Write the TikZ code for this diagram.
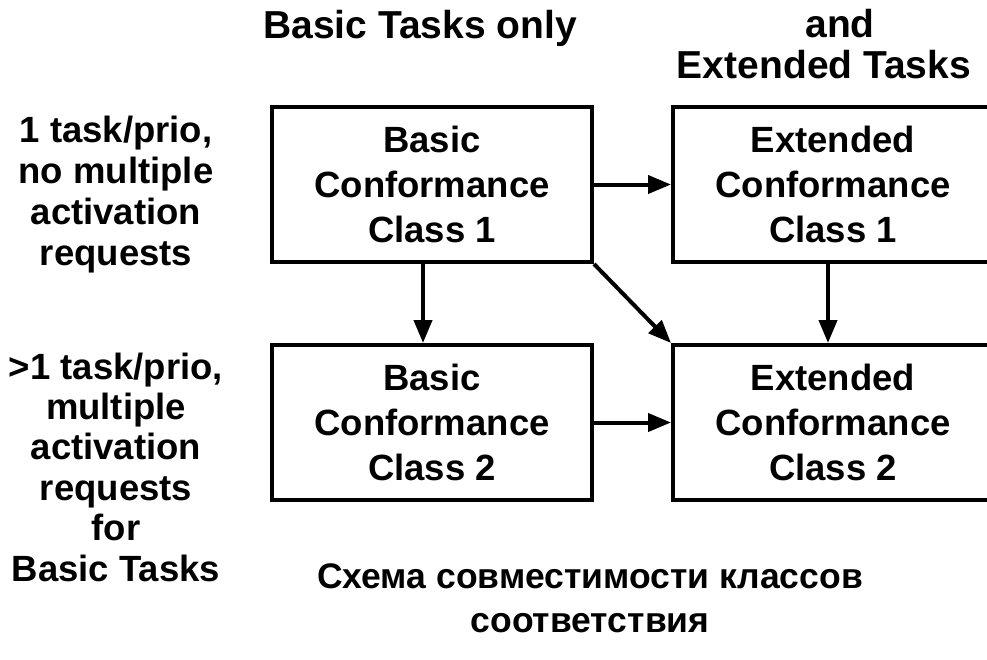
\documentclass[tikz,border=0pt]{standalone}
\usepackage{fontspec}
\setmainfont{Liberation Sans}
\usetikzlibrary{arrows.meta}
\begin{document}
\begin{tikzpicture}[x=1pt,y=-1pt,
  box/.style={draw, line width=4pt, minimum width=320pt, minimum height=155pt, align=center, inner sep=0pt, font=\fontsize{36.5}{45}\selectfont\bfseries},
  lbl/.style={align=center, inner sep=0pt, anchor=base},
  head/.style={lbl, font=\fontsize{39}{41}\selectfont\bfseries},
  conn/.style={line width=4pt, -{Triangle[length=23pt,width=18pt]}}]
\useasboundingbox (0,0) rectangle (987,659);
% boxes
\node[box] (b1) at (432,184.5) {Basic\\Conformance\\Class 1};
\node[box] (e1) at (833,184.5) {Extended\\Conformance\\Class 1};
\node[box] (b2) at (432,422.5) {Basic\\Conformance\\Class 2};
\node[box] (e2) at (833,422.5) {Extended\\Conformance\\Class 2};
% headings (anchor=base is the baseline of the last line)
\node[head] (h1) at (420,38) {Basic Tasks only};
\node[head] (h2a) at (840,37) {and};
\node[head] (h2b) at (824,78) {Extended Tasks};
% row labels
\node[lbl, font=\fontsize{36.5}{40.7}\selectfont\bfseries] (r1) at (116,265) {1 task/prio,\\no multiple\\activation\\requests};
\node[lbl, font=\fontsize{36.5}{40.4}\selectfont\bfseries] (r2) at (116,581) {>1 task/prio,\\multiple\\activation\\requests\\for\\Basic Tasks};
% caption
\node[lbl, font=\fontsize{35.5}{44}\selectfont\bfseries] (cap) at (590,632) {Схема совместимости классов\\соответствия};
% connectors
\draw[conn] (b1.east) -- (e1.west);
\draw[conn] ([xshift=-9pt]b1.south) -- ([xshift=-9pt]b2.north);
\draw[conn] ([xshift=-5pt]e1.south) -- ([xshift=-5pt]e2.north);
\draw[conn] (b1.south east) -- (e2.north west);
\draw[conn] (b2.east) -- (e2.west);
\end{tikzpicture}
\end{document}
